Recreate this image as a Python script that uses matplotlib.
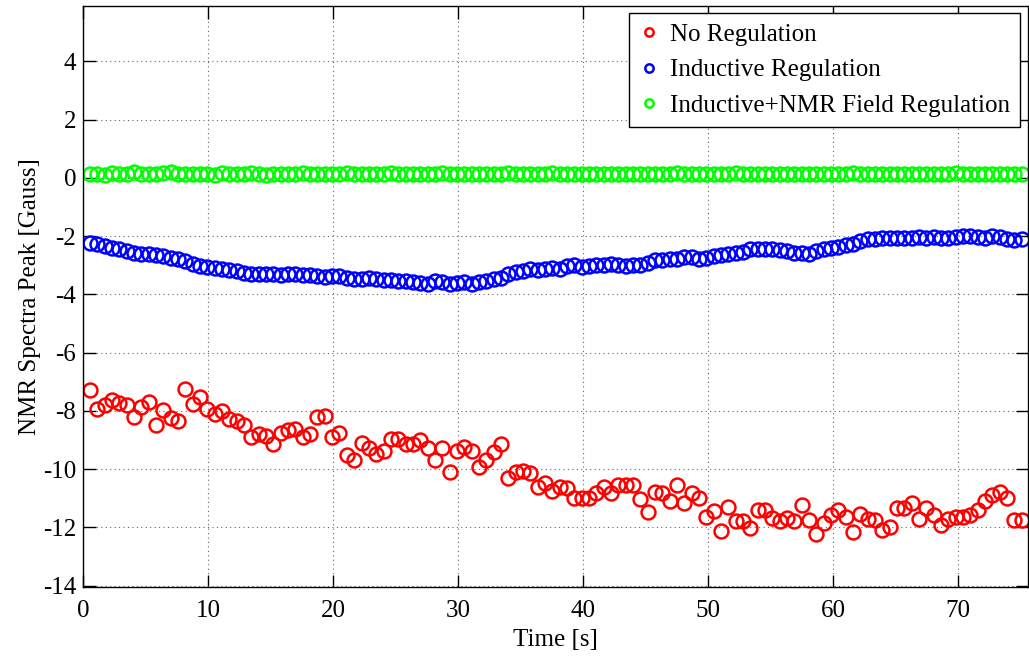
import numpy as np
import matplotlib
matplotlib.use('Agg')
import matplotlib.pyplot as plt

# sample times (uniform acquisition, ~0.587 s step)
t_start, t_step, n_pts = 0.56, 0.587, 128

no_reg = [
    -7.27, -7.93, -7.81, -7.64, -7.72, -7.80, -8.22, -7.85, -7.71, -8.48,
    -7.96, -8.24, -8.33, -7.24, -7.76, -7.51, -7.95, -8.10, -7.99, -8.27,
    -8.36, -8.50, -8.90, -8.79, -8.85, -9.13, -8.77, -8.65, -8.62, -8.90,
    -8.78, -8.22, -8.16, -8.90, -8.77, -9.50, -9.67, -9.10, -9.27, -9.48,
    -9.38, -8.96, -8.96, -9.13, -9.15, -8.99, -9.28, -9.68, -9.28, -10.08,
    -9.36, -9.25, -9.38, -9.93, -9.68, -9.40, -9.13, -10.31, -10.10, -10.06,
    -10.13, -10.60, -10.48, -10.76, -10.62, -10.66, -10.99, -10.99, -10.99, -10.81,
    -10.62, -10.81, -10.56, -10.53, -10.56, -11.04, -11.46, -10.79, -10.83, -11.10,
    -10.54, -11.17, -10.83, -10.99, -11.65, -11.42, -12.11, -11.31, -11.77, -11.77,
    -12.02, -11.39, -11.39, -11.67, -11.79, -11.67, -11.79, -11.23, -11.74, -12.22,
    -11.86, -11.59, -11.40, -11.65, -12.14, -11.54, -11.71, -11.74, -12.09, -12.00,
    -11.33, -11.33, -11.16, -11.71, -11.34, -11.56, -11.90, -11.71, -11.63, -11.63,
    -11.57, -11.40, -11.10, -10.87, -10.79, -11.00, -11.73, -11.73,
]

inductive = [
    -2.24, -2.28, -2.35, -2.40, -2.45, -2.51, -2.58, -2.60, -2.63, -2.66,
    -2.69, -2.74, -2.77, -2.87, -2.95, -3.03, -3.06, -3.10, -3.12, -3.15,
    -3.20, -3.25, -3.31, -3.29, -3.29, -3.31, -3.35, -3.31, -3.31, -3.32,
    -3.34, -3.37, -3.40, -3.37, -3.37, -3.44, -3.48, -3.48, -3.44, -3.48,
    -3.52, -3.52, -3.55, -3.55, -3.58, -3.60, -3.63, -3.55, -3.58, -3.63,
    -3.60, -3.58, -3.63, -3.58, -3.54, -3.46, -3.43, -3.29, -3.23, -3.20,
    -3.12, -3.15, -3.12, -3.10, -3.12, -3.04, -3.00, -3.06, -3.03, -3.00,
    -2.98, -2.95, -3.00, -3.03, -3.00, -2.98, -2.92, -2.83, -2.83, -2.77,
    -2.77, -2.72, -2.72, -2.80, -2.75, -2.69, -2.66, -2.63, -2.58, -2.55,
    -2.46, -2.43, -2.43, -2.46, -2.49, -2.52, -2.57, -2.57, -2.60, -2.51,
    -2.45, -2.41, -2.37, -2.32, -2.26, -2.17, -2.11, -2.11, -2.06, -2.05,
    -2.05, -2.05, -2.05, -2.03, -2.05, -2.03, -2.05, -2.05, -2.03, -2.01,
    -2.01, -2.03, -2.05, -2.01, -2.03, -2.09, -2.12, -2.09,
]

inductive_nmr = [
    0.14, 0.14, 0.10, 0.16, 0.14, 0.14, 0.19, 0.14, 0.14, 0.14,
    0.16, 0.19, 0.14, 0.14, 0.14, 0.14, 0.14, 0.10, 0.16, 0.14,
    0.14, 0.14, 0.16, 0.14, 0.10, 0.14, 0.14, 0.14, 0.14, 0.16,
    0.14, 0.14, 0.14, 0.14, 0.14, 0.16, 0.14, 0.14, 0.14, 0.14,
    0.14, 0.16, 0.14, 0.14, 0.14, 0.14, 0.14, 0.14, 0.16, 0.14,
    0.14, 0.14, 0.14, 0.14, 0.14, 0.14, 0.14, 0.16, 0.14, 0.14,
    0.14, 0.14, 0.14, 0.16, 0.14, 0.14, 0.14, 0.14, 0.14, 0.14,
    0.14, 0.14, 0.14, 0.14, 0.14, 0.14, 0.14, 0.14, 0.14, 0.14,
    0.16, 0.14, 0.14, 0.14, 0.14, 0.14, 0.14, 0.14, 0.16, 0.14,
    0.14, 0.14, 0.14, 0.14, 0.14, 0.14, 0.14, 0.14, 0.14, 0.14,
    0.14, 0.14, 0.14, 0.14, 0.16, 0.14, 0.14, 0.14, 0.14, 0.14,
    0.14, 0.14, 0.14, 0.14, 0.14, 0.14, 0.14, 0.14, 0.16, 0.14,
    0.14, 0.14, 0.14, 0.14, 0.14, 0.14, 0.14, 0.14,
]

labels = ['No Regulation', 'Inductive Regulation', 'Inductive+NMR Field Regulation']
x_ticks = np.arange(0, 71, 10)
y_ticks = np.arange(-14, 5, 2)

t = t_start + t_step * np.arange(n_pts)

plt.rcParams['font.family'] = ['Liberation Serif', 'DejaVu Serif']
plt.rcParams['font.size'] = 18
plt.rcParams['axes.unicode_minus'] = False

fig = plt.figure(figsize=(10.29, 6.59), dpi=100)
ax = fig.add_axes([0.0807, 0.109, 0.9183, 0.882])

series = [(no_reg, (1, 0, 0)), (inductive, (0, 0, 1)), (inductive_nmr, (0, 1, 0))]
for (vals, col), lab in zip(series, labels):
    ax.plot(t, vals, linestyle='none', marker='o', markersize=10,
            markerfacecolor='none', markeredgecolor=col, markeredgewidth=1.8,
            label=lab)

ax.set_xlim(0, 75.6)
ax.set_ylim(-14.05, 5.9)
ax.set_xticks(x_ticks)
ax.set_yticks(y_ticks)
ax.grid(True, linestyle=(0, (1, 3)), color='#666666', linewidth=0.8)
ax.tick_params(direction='in', length=9, width=1, top=True, right=True,
               labelsize=18, pad=5)
ax.tick_params(axis='x', pad=9)
for s in ax.spines.values():
    s.set_linewidth(1)

ax.set_xlabel('Time [s]', fontsize=18, labelpad=5)
ax.set_ylabel('NMR Spectra Peak [Gauss]', fontsize=18, labelpad=1)

leg = ax.legend(loc='upper right', fontsize=18, markerscale=0.6, fancybox=False,
                framealpha=1, edgecolor='black', handlelength=0.8,
                handletextpad=0.45, borderaxespad=0.3, labelspacing=0.52,
                borderpad=0.4)
leg.get_frame().set_linewidth(1)

fig.savefig('out.png', dpi=100)
